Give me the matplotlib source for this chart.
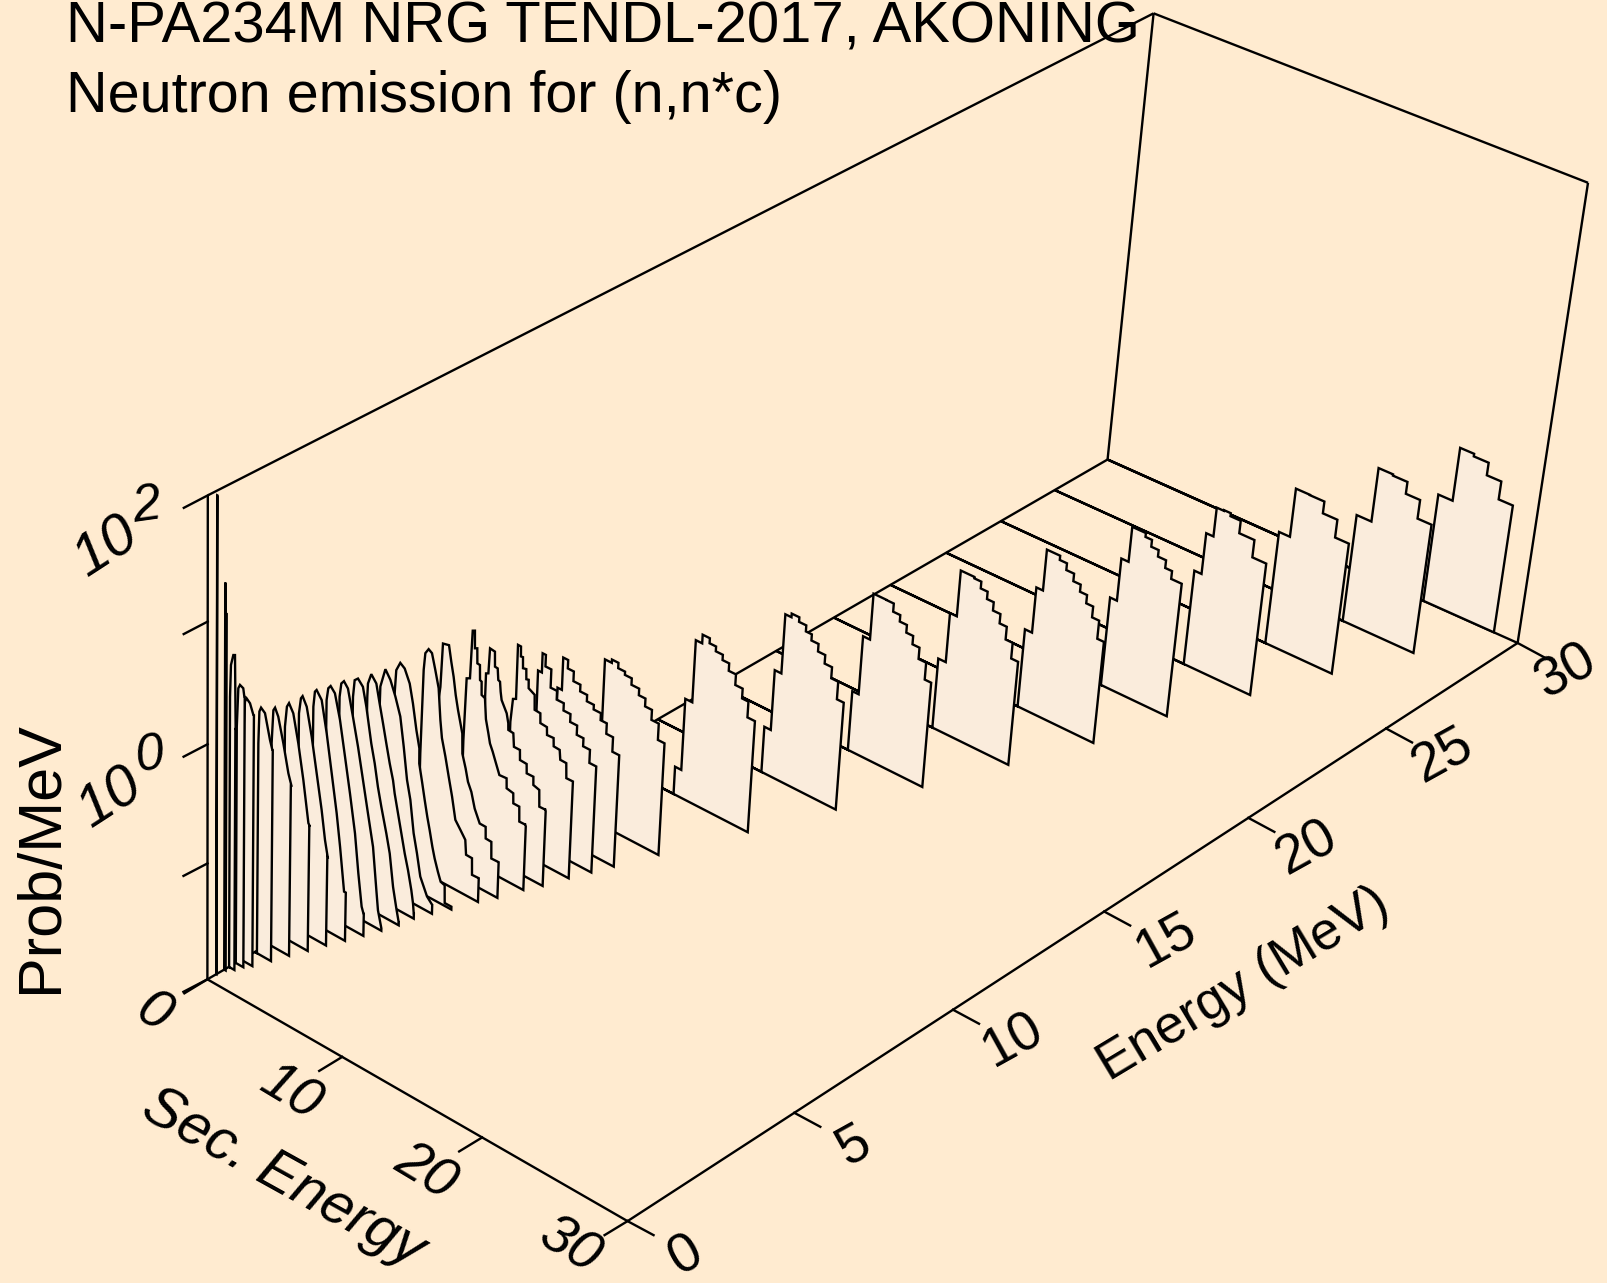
import numpy as np
import matplotlib
matplotlib.use('Agg')
import matplotlib.pyplot as plt
from matplotlib.patches import Polygon

plt.rcParams['font.family'] = ['Liberation Sans', 'DejaVu Sans']

BG = '#FFEBD0'
PANEL = '#FAECDC'
LW = 1.7

title1 = 'N-PA234M NRG TENDL-2017, AKONING'
title2 = 'Neutron emission for (n,n*c)'

# histogram spectra: bin edges (MeV) and probability per MeV
stair_energy = [30, 28, 26, 24, 22, 20, 18, 16, 14, 12, 10, 9, 8.5]
stair_edges = [
    [23.36, 24.36, 25.33, 26.36, 27.36, 28.34],
    [21.33, 22.37, 23.38, 24.39, 25.38, 26.35],
    [19.60, 20.37, 21.35, 22.36, 23.37, 24.33],
    [17.63, 18.14, 18.65, 19.15, 19.63, 20.35, 21.41, 22.38],
    [15.64, 16.13, 16.64, 17.60, 18.06, 18.58, 19.15, 19.63, 20.37],
    [13.68, 14.19, 14.66, 15.60, 16.11, 16.66, 17.18, 17.68, 18.17, 18.67, 19.14],
    [11.65, 12.19, 12.68, 13.65, 14.15, 14.64, 15.12, 15.65, 16.16, 16.66, 17.15],
    [9.74, 10.20, 10.70, 11.62, 12.15, 12.66, 13.17, 13.66, 14.16, 14.70, 15.16],
    [7.76, 8.23, 8.71, 9.15, 9.70, 10.22, 10.65, 11.16, 11.68, 12.21, 12.71, 13.20],
    [5.75, 6.21, 6.72, 7.18, 7.70, 8.17, 8.68, 9.16, 9.68, 10.21, 10.67, 11.21],
    [4.68, 5.18, 5.65, 6.15, 6.65, 7.21, 7.69, 8.19, 8.72, 9.20],
    [3.60, 3.92, 4.28, 4.72, 5.23, 5.74, 6.25, 6.78, 7.23, 7.72, 8.22],
    [3.28, 3.56, 3.80, 4.23, 4.70, 5.22, 5.73, 6.24, 6.73, 7.23, 7.73],
]
stair_prob = [
    [0.0927, 0.275, 0.261, 0.202, 0.14],
    [0.0912, 0.273, 0.266, 0.209, 0.143],
    [0.101, 0.27, 0.268, 0.211, 0.147],
    [0.0695, 0.16, 0.287, 0.291, 0.274, 0.213, 0.15],
    [0.0613, 0.145, 0.294, 0.272, 0.237, 0.208, 0.178, 0.152],
    [0.0493, 0.124, 0.283, 0.26, 0.227, 0.195, 0.169, 0.143, 0.115, 0.0797],
    [0.0416, 0.113, 0.284, 0.276, 0.241, 0.208, 0.176, 0.146, 0.113, 0.0824],
    [0.0335, 0.109, 0.274, 0.273, 0.232, 0.204, 0.175, 0.148, 0.118, 0.0839],
    [0.0253, 0.0853, 0.279, 0.3, 0.274, 0.243, 0.215, 0.185, 0.156, 0.125, 0.0879],
    [0.0175, 0.0742, 0.257, 0.305, 0.276, 0.251, 0.226, 0.195, 0.158, 0.13, 0.0949],
    [0.27, 0.288, 0.259, 0.243, 0.214, 0.188, 0.161, 0.132, 0.0954],
    [0.19, 0.36, 0.305, 0.252, 0.221, 0.195, 0.178, 0.155, 0.126, 0.0945],
    [0.305, 0.445, 0.355, 0.248, 0.209, 0.181, 0.155, 0.129, 0.11, 0.0848],
]

# finer spectra below 8 MeV, outline points
curve_energy = [8, 7.4, 7, 6.4, 6, 5.4, 5, 4.6, 4.2, 3.8, 3.4, 3, 2.6, 2.19, 1.79, 1.39, 0.99, 0.83, 0.63, 0.49, 0.26]
curve_es = [
    [2.56, 2.69, 2.91, 2.91, 3.13, 3.15, 3.30, 3.33, 3.57, 3.60, 3.77, 3.79, 4.24, 4.28, 4.70, 4.73, 5.21, 5.24, 5.72, 5.75, 6.19, 6.26, 6.70, 6.75, 7.23, 7.23],
    [2.05, 2.06, 2.23, 2.29, 2.65, 2.69, 2.89, 2.96, 3.09, 3.16, 3.25, 3.65, 3.79, 3.81, 4.18, 4.26, 4.70, 4.73, 5.22, 5.25, 5.74, 5.76, 6.20, 6.25, 6.74, 6.72],
    [1.50, 1.60, 1.84, 1.93, 2.09, 2.13, 2.30, 2.34, 2.53, 2.57, 2.69, 2.72, 2.97, 3.09, 3.30, 3.44, 3.66, 3.85, 4.20, 4.73, 4.76, 5.25, 5.28, 5.72, 5.76, 6.25, 6.24],
    [1.04, 1.12, 1.22, 1.66, 1.86, 2.06, 2.25, 2.45, 2.81, 2.86, 3.13, 3.33, 3.60, 3.88, 4.28, 4.72, 4.75, 5.17, 5.21, 5.70, 5.75],
    [0.73, 0.82, 0.91, 1.14, 1.39, 1.66, 1.94, 2.13, 2.28, 2.57, 2.85, 3.14, 3.43, 3.82, 4.20, 4.29, 4.73, 4.77, 5.26, 5.27],
    [0.18, 0.26, 0.54, 0.87, 1.26, 1.53, 1.83, 2.08, 2.10, 2.34, 2.57, 2.79, 2.99, 3.22, 3.41, 3.68, 3.90, 4.20, 4.24, 4.74, 4.74],
    [0.07, 0.09, 0.43, 0.81, 1.20, 1.59, 1.89, 2.19, 2.47, 2.77, 3.05, 3.34, 3.87, 4.26, 4.27],
    [0.12, 0.15, 0.38, 0.76, 1.03, 1.31, 1.58, 1.86, 2.13, 2.27, 2.55, 2.83, 3.11, 3.38, 3.66, 3.81, 3.88, 3.89],
    [0.05, 0.15, 0.39, 0.76, 1.04, 1.45, 1.73, 2.00, 2.28, 2.69, 2.97, 3.27, 3.55, 3.74, 3.75],
    [0.05, 0.16, 0.35, 0.65, 1.05, 1.46, 1.87, 2.28, 2.70, 3.01, 3.16, 3.44, 3.44],
    [0.09, 0.20, 0.37, 0.69, 1.09, 1.50, 1.91, 2.33, 2.63, 2.92, 3.06, 3.09],
    [0.12, 0.22, 0.34, 0.72, 1.12, 1.53, 1.94, 2.23, 2.58, 2.71],
    [0.07, 0.20, 0.32, 0.63, 1.02, 1.42, 1.82, 2.10, 2.31, 2.29],
    [0.08, 0.21, 0.36, 0.68, 1.07, 1.47, 1.88, 2.00, 1.95],
    [0.12, 0.23, 0.35, 0.59, 0.98, 1.37, 1.62, 1.56],
    [0.16, 0.22, 0.34, 0.63, 1.01, 1.19, 1.22],
    [0.12, 0.18, 0.30, 0.55, 0.80, 0.84],
    [0.00, 0.10, 0.22, 0.46, 0.54, 0.57],
    [0.01, 0.07, 0.24, 0.36, 0.43, 0.41],
    [0.00, 0.00, 0.00, 0.03, 0.03, 0.11],
    [0.00, 0.00, 0.01],
]
curve_prob = [
    [0.12, 0.192, 0.198, 0.573, 0.572, 0.472, 0.475, 0.384, 0.39, 0.321, 0.325, 0.276, 0.258, 0.193, 0.191, 0.158, 0.156, 0.134, 0.135, 0.115, 0.114, 0.0946, 0.0942, 0.0703, 0.0705, 0.0705],
    [0.214, 0.361, 0.37, 0.608, 0.599, 0.449, 0.446, 0.359, 0.353, 0.293, 0.252, 0.205, 0.172, 0.151, 0.149, 0.115, 0.115, 0.0946, 0.0937, 0.0781, 0.0783, 0.0666, 0.0642, 0.0463, 0.0465, 0.0465],
    [0.103, 0.355, 0.367, 0.94, 0.961, 0.686, 0.702, 0.526, 0.523, 0.392, 0.386, 0.299, 0.29, 0.195, 0.152, 0.127, 0.111, 0.0967, 0.0754, 0.0762, 0.0627, 0.0609, 0.05, 0.0499, 0.0372, 0.0373, 0.0373],
    [0.283, 0.348, 0.822, 0.845, 0.628, 0.482, 0.346, 0.265, 0.176, 0.119, 0.0921, 0.0727, 0.0618, 0.0461, 0.0362, 0.0361, 0.0287, 0.0285, 0.0205, 0.0206, 0.0206],
    [0.103, 0.538, 0.753, 0.84, 0.804, 0.604, 0.439, 0.242, 0.173, 0.125, 0.0876, 0.0613, 0.0401, 0.0347, 0.03, 0.0225, 0.0224, 0.0161, 0.0162, 0.0162],
    [0.385, 0.613, 0.734, 0.688, 0.542, 0.382, 0.236, 0.171, 0.127, 0.0914, 0.0656, 0.0486, 0.0383, 0.0284, 0.0231, 0.0183, 0.0155, 0.0151, 0.0106, 0.0106, 0.0106],
    [0.339, 0.503, 0.737, 0.632, 0.482, 0.345, 0.2, 0.108, 0.0757, 0.0407, 0.0284, 0.0185, 0.0134, 0.012, 0.012],
    [0.477, 0.62, 0.767, 0.674, 0.475, 0.334, 0.235, 0.165, 0.123, 0.0968, 0.0678, 0.0474, 0.0331, 0.0247, 0.0172, 0.0134, 0.0111, 0.0111],
    [0.545, 0.763, 0.814, 0.73, 0.514, 0.267, 0.188, 0.123, 0.0865, 0.054, 0.0378, 0.0202, 0.0136, 0.0107, 0.0107],
    [0.63, 0.827, 0.888, 0.803, 0.491, 0.29, 0.16, 0.0881, 0.0483, 0.0213, 0.0145, 0.0105, 0.0105],
    [0.688, 0.875, 0.936, 0.85, 0.537, 0.279, 0.144, 0.0697, 0.0329, 0.0176, 0.0157, 0.0157],
    [0.701, 0.95, 0.997, 0.866, 0.482, 0.235, 0.114, 0.0613, 0.0264, 0.0264],
    [0.708, 0.962, 1.02, 0.869, 0.515, 0.268, 0.139, 0.08, 0.0594, 0.0594],
    [0.637, 0.952, 1.04, 0.894, 0.53, 0.276, 0.126, 0.12, 0.12],
    [0.537, 1.03, 1.1, 0.958, 0.606, 0.359, 0.287, 0.287],
    [0.625, 1.16, 1.27, 1.19, 0.751, 0.636, 0.636],
    [1.05, 1.61, 1.74, 1.64, 1.36, 1.36],
    [1.03, 2.17, 2.35, 2.28, 1.97, 1.97],
    [1.96, 3.6, 4.44, 4.51, 1.11, 1.11],
    [4.53, 9.67, 17.1, 17.4, 9.86, 9.86],
    [90.4, 91.8, 91.8],
]

es_ticks = [0, 10, 20, 30]
e_ticks = [0, 5, 10, 15, 20, 25, 30]
z_ticks = [-2, -1, 0, 1, 2]

# perspective view of the box, fitted from where its corners and ticks sit on the page
view = [(0, 0, -2, 207.7, 979), (0, 10, -2, 341.4, 1056.7), (0, 20, -2, 481.8, 1137.7), (0, 30, -2, 627, 1221),
        (5, 30, -2, 795.3, 1111.7), (10, 30, -2, 953, 1010), (15, 30, -2, 1105, 911.7), (20, 30, -2, 1247.7, 819),
        (25, 30, -2, 1387, 728.3), (30, 30, -2, 1517, 643), (30, 0, -2, 1107.3, 459.3), (30, 0, 2, 1154, 13.3),
        (30, 30, 2, 1587.6, 182.4), (0, 0, 2, 207.7, 495.5), (0, 0, 1, 207.7, 621.8), (0, 0, 0, 207.7, 744.3),
        (0, 0, -1, 207.7, 863.6)]
rows = []
for e, s, z, x, y in view:
    rows.append([e, s, z, 1, 0, 0, 0, 0, -x*e, -x*s, -x*z, -x])
    rows.append([0, 0, 0, 0, e, s, z, 1, -y*e, -y*s, -y*z, -y])
M = np.linalg.svd(np.array(rows, float))[2][-1].reshape(3, 4)


def proj(e, s, z):
    v = M @ np.array([e, s, z, 1.0])
    return v[0] / v[2], v[1] / v[2]


def edge(a, b):
    p, q = proj(*a), proj(*b)
    ax.plot([p[0], q[0]], [p[1], q[1]], color='k', lw=LW, solid_capstyle='butt')


def panel(e, es, prob):
    z = np.log10(prob)
    pts = [proj(e, 0, -2), proj(e, es[0], -2)]
    pts += [proj(e, s, zz) for s, zz in zip(es, z)]
    pts += [proj(e, es[-1], -2)]
    ax.add_patch(Polygon(pts, closed=True, fc=PANEL, ec='k', lw=LW, joinstyle='miter', zorder=3))


fig = plt.figure(figsize=(16.07, 12.83), dpi=100, facecolor=BG)
ax = fig.add_axes([0, 0, 1, 1])
ax.set_xlim(0, 1607)
ax.set_ylim(1283, 0)
ax.axis('off')

# box
edge((0, 0, -2), (0, 30, -2))
edge((0, 30, -2), (30, 30, -2))
edge((0, 0, -2), (30, 0, -2))
edge((30, 0, -2), (30, 30, -2))
edge((0, 0, -2), (0, 0, 2))
edge((30, 0, -2), (30, 0, 2))
edge((30, 30, -2), (30, 30, 2))
edge((0, 0, 2), (30, 0, 2))
edge((30, 0, 2), (30, 30, 2))

# ticks
for s in es_ticks:
    x, y = proj(0, s, -2)
    ax.plot([x, x - 23], [y, y + 14], color='k', lw=LW)
for e in e_ticks:
    x, y = proj(e, 30, -2)
    ax.plot([x, x + 26], [y, y + 14], color='k', lw=LW)
for z in z_ticks:
    x, y = proj(0, 0, z)
    ax.plot([x, x - 24], [y, y + 12.5], color='k', lw=LW)

# spectra, back to front
for e, edges, prob in zip(stair_energy, stair_edges, stair_prob):
    panel(e, np.repeat(edges, 2)[1:-1], np.repeat(prob, 2))
for e, es, prob in zip(curve_energy, curve_es, curve_prob):
    panel(e, np.array(es), np.array(prob))

# text
ax.text(66.5, 42.7, title1, fontsize=41.8, va='baseline', ha='left', zorder=5)
ax.text(66.5, 111.7, title2, fontsize=41.4, va='baseline', ha='left', zorder=5)

lab = dict(ha='center', va='center', rotation_mode='anchor', zorder=5)
es_pos = [(153.5, 1014), (290, 1093), (425, 1172), (570, 1246)]
for s, (x, y) in zip(es_ticks, es_pos):
    ax.text(x, y, str(s), fontsize=40, rotation=-31, style='italic', **lab)
e_pos = [(686, 1256), (854, 1146), (1013, 1041), (1166, 941), (1307, 849), (1443, 757), (1567, 672)]
for e, (x, y) in zip(e_ticks, e_pos):
    ax.text(x, y, str(e), fontsize=39.5, rotation=29, **lab)

ax.text(106, 547, '10', fontsize=42, rotation=33, style='italic', **lab)
ax.text(147, 507, '2', fontsize=37, rotation=8, style='italic', **lab)
ax.text(110, 798.6, '10', fontsize=42, rotation=33, style='italic', **lab)
ax.text(150, 756, '0', fontsize=37, rotation=8, style='italic', **lab)

ax.text(283, 1178, 'Sec. Energy', fontsize=41.5, rotation=-29, style='italic', **lab)
ax.text(1244, 985, 'Energy (MeV)', fontsize=38.5, rotation=31, **lab)
ax.text(42, 857, 'Prob/MeV', fontsize=44, rotation=90, **lab)

fig.savefig('out.png', dpi=100, facecolor=BG)
